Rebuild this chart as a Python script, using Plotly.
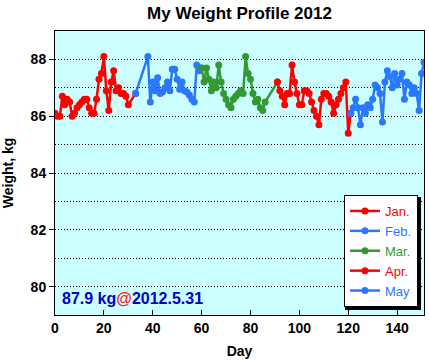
import plotly.graph_objects as go

# ---- data (day index: Jan 1 = 0) ----
jan_day = [0,1,2,3,4,5,6,7,8,9,10,11,12,13,14,15,16,17,18,19,20,21,22,23,24,25,26,27,28,29,30,33]
jan_kg = [86.1,86.0,86.0,86.7,86.4,86.6,86.5,86.0,86.1,86.3,86.4,86.5,86.6,86.6,86.3,86.1,86.1,86.6,87.3,87.5,88.1,86.9,86.2,87.2,87.6,86.9,87.0,86.8,86.8,86.7,86.4,86.8]

feb_day = [33,38,39,40,41,42,43,44,45,46,47,48,49,50,51,52,53,54,55,56,57,58,59,60]
feb_kg = [86.8,88.1,86.5,87.2,86.9,87.35,86.8,86.85,87.0,87.2,86.9,87.65,87.65,87.3,86.95,87.2,86.9,86.85,86.75,86.6,86.5,87.8,87.6,87.7]

mar_day = [60,61,62,63,64,65,66,67,68,69,70,71,72,73,74,75,76,77,78,79,80,81,82,83,84,85,86,91]
mar_kg = [87.7,87.2,87.7,87.3,86.9,87.2,87.0,87.8,87.2,86.8,86.6,86.4,86.3,86.6,86.7,86.8,86.9,86.8,88.1,87.5,87.3,86.8,86.5,86.6,86.3,86.2,86.5,87.2]

apr_day = [91,92,93,94,95,96,97,98,99,100,101,102,103,104,105,106,107,108,109,110,111,112,113,114,115,116,117,118,119,120,121]
apr_kg = [87.2,86.9,86.7,86.4,86.8,86.8,87.8,87.2,86.8,86.4,86.4,86.9,86.9,86.8,86.5,86.2,86.0,85.7,86.6,86.8,86.8,86.7,86.5,86.1,86.4,86.6,86.8,87.0,87.2,85.4,86.1]

may_day = [121,122,123,124,125,126,127,128,129,130,131,132,133,134,135,136,137,138,139,140,141,142,143,144,145,146,147,148,149,150,151]
may_kg = [86.1,86.3,86.6,86.3,85.7,86.3,86.1,86.4,86.3,86.6,87.1,87.0,86.8,85.8,87.2,87.6,87.4,87.0,87.5,87.1,87.3,87.5,86.6,87.2,87.1,86.8,87.0,86.8,86.2,87.5,87.9]

month_names = ["Jan.", "Feb.", "Mar.", "Apr.", "May"]
month_colors = ["#ff0000", "#2a78ff", "#339933", "#ff0000", "#2a78ff"]
series = [(jan_day, jan_kg), (feb_day, feb_kg), (mar_day, mar_kg), (apr_day, apr_kg), (may_day, may_kg)]

FONT = "Liberation Sans, Arial, Helvetica, sans-serif"

fig = go.Figure()
for (d, w), name, col in zip(series, month_names, month_colors):
    fig.add_trace(go.Scatter(
        x=d, y=w, mode="lines+markers", name=f"<span style='color:{col}'>{name}</span>",
        line=dict(color=col, width=2.5), marker=dict(color=col, size=7),
    ))

# plot area: x 55..424, y 31..315 (369 x 284 px)
PW, PH = 369.0, 284.0
L_right, L_bottom = 418.0, 307.0          # legend box, page px
L_left, L_top = 341.0, 193.0              # estimated legend extent, page px
def px_x(p): return (p - 55.0) / PW
def px_y(p): return (315.0 - p) / PH

fig.add_shape(type="rect", xref="paper", yref="paper",
              x0=px_x(L_left + 4), x1=px_x(L_right + 3), y0=px_y(L_bottom + 3), y1=px_y(L_top + 4),
              fillcolor="black", line=dict(width=0), layer="above")

fig.add_annotation(
    xref="paper", yref="paper", x=px_x(60), y=px_y(298), xanchor="left", yanchor="middle",
    text=f"<b>{may_kg[-1]:.1f} kg<span style='color:#ff2020'>@</span>2012.5.31</b>",
    showarrow=False, font=dict(family=FONT, size=16, color="#0000cc"),
)

fig.update_layout(
    width=429, height=364,
    margin=dict(l=55, r=5, t=31, b=49),
    paper_bgcolor="white", plot_bgcolor="#ccffff",
    font=dict(family=FONT, size=14, color="black"),
    title=dict(text="<b>My Weight Profile 2012</b>", x=0.5, xref="paper", y=1 - 13 / 364, yanchor="middle",
               font=dict(family=FONT, size=17, color="black")),
    legend=dict(x=px_x(L_right), y=px_y(L_bottom), xanchor="right", yanchor="bottom", bgcolor="white",
                bordercolor="black", borderwidth=1, font=dict(family=FONT, size=13),
                tracegroupgap=0, entrywidth=49, entrywidthmode="pixels"),
    showlegend=True,
)
fig.update_xaxes(
    range=[0, 151], dtick=20, tick0=0, ticks="inside", ticklen=5, tickcolor="black",
    showgrid=False, zeroline=False, showline=True, mirror=True, linecolor="black", linewidth=1,
    tickfont=dict(family=FONT, size=14, color="black"),
    title=dict(text="<b>Day</b>", font=dict(family=FONT, size=14), standoff=11),
    automargin=False, tickprefix="<b>", ticksuffix="</b>",
)
fig.update_yaxes(
    range=[79, 89], dtick=2, tick0=80, ticks="outside", ticklen=5, tickcolor="black",
    showgrid=True, gridcolor="black", gridwidth=1, griddash="1px,2px",
    minor=dict(dtick=1, showgrid=True, gridcolor="black", gridwidth=1, griddash="1px,2px"),
    zeroline=False, showline=True, mirror=True, linecolor="black", linewidth=1,
    tickfont=dict(family=FONT, size=14, color="black"),
    title=dict(text="<b>Weight, kg</b>", font=dict(family=FONT, size=14)),
    automargin=False, tickprefix="<b>", ticksuffix="</b>",
)

fig.write_html("out.html", config={"displayModeBar": False},
               post_script="document.body.style.margin='0';document.body.style.padding='0';")
